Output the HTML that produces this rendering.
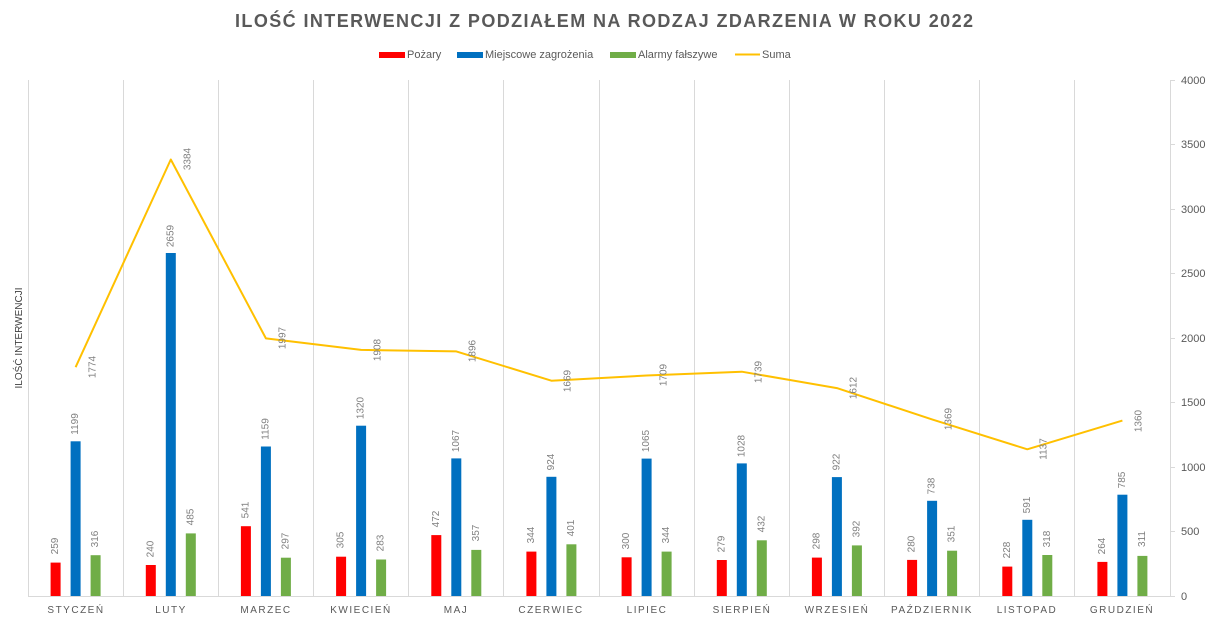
<!DOCTYPE html>
<html><head><meta charset="utf-8"><style>
html,body{margin:0;padding:0;background:#fff;}
svg{display:block;font-family:"Liberation Sans",sans-serif;}
.g{stroke:#d9d9d9;stroke-width:1;}
.r{fill:#FF0000}.b{fill:#0070C0}.n{fill:#70AD47}
.l{font-size:10px;fill:#7f7f7f;text-anchor:middle;dominant-baseline:central;}
.s{font-size:10px;fill:#7f7f7f;text-anchor:middle;dominant-baseline:central;}
.t{font-size:11px;fill:#595959;}
.c{font-size:10px;fill:#595959;text-anchor:middle;letter-spacing:1.5px;}
</style></head><body>
<svg width="1212" height="624" viewBox="0 0 1212 624">
<text x="604" y="27" text-anchor="middle" font-size="18" font-weight="bold" fill="#595959" textLength="738" lengthAdjust="spacing">ILOŚĆ INTERWENCJI Z PODZIAŁEM NA RODZAJ ZDARZENIA W ROKU 2022</text>
<rect x="379" y="52" width="26" height="6" fill="#FF0000"/><text x="407" y="58" font-size="11" fill="#595959">Pożary</text>
<rect x="457" y="52" width="26" height="6" fill="#0070C0"/><text x="485" y="58" font-size="11" fill="#595959">Miejscowe zagrożenia</text>
<rect x="610" y="52" width="26" height="6" fill="#70AD47"/><text x="638" y="58" font-size="11" fill="#595959">Alarmy fałszywe</text>
<line x1="735" y1="54.5" x2="760" y2="54.5" stroke="#FFC000" stroke-width="2"/><text x="762" y="58" font-size="11" fill="#595959">Suma</text>
<text transform="translate(22,338) rotate(-90)" text-anchor="middle" font-size="10" fill="#404040">ILOŚĆ INTERWENCJI</text>
<g class="g">
<line x1="28.5" y1="80" x2="28.5" y2="596"/><line x1="123.5" y1="80" x2="123.5" y2="596"/><line x1="218.5" y1="80" x2="218.5" y2="596"/><line x1="313.5" y1="80" x2="313.5" y2="596"/><line x1="408.5" y1="80" x2="408.5" y2="596"/><line x1="503.5" y1="80" x2="503.5" y2="596"/><line x1="599.5" y1="80" x2="599.5" y2="596"/><line x1="694.5" y1="80" x2="694.5" y2="596"/><line x1="789.5" y1="80" x2="789.5" y2="596"/><line x1="884.5" y1="80" x2="884.5" y2="596"/><line x1="979.5" y1="80" x2="979.5" y2="596"/><line x1="1074.5" y1="80" x2="1074.5" y2="596"/><line x1="1170.5" y1="80" x2="1170.5" y2="596"/>
<line x1="28" y1="596.5" x2="1170" y2="596.5"/>
<line x1="1170" y1="80.5" x2="1175" y2="80.5"/><line x1="1170" y1="144.5" x2="1175" y2="144.5"/><line x1="1170" y1="209.5" x2="1175" y2="209.5"/><line x1="1170" y1="273.5" x2="1175" y2="273.5"/><line x1="1170" y1="338.5" x2="1175" y2="338.5"/><line x1="1170" y1="402.5" x2="1175" y2="402.5"/><line x1="1170" y1="467.5" x2="1175" y2="467.5"/><line x1="1170" y1="531.5" x2="1175" y2="531.5"/><line x1="1170" y1="596.5" x2="1175" y2="596.5"/>
</g>
<g class="t">
<text x="1181" y="84">4000</text><text x="1181" y="148">3500</text><text x="1181" y="213">3000</text><text x="1181" y="277">2500</text><text x="1181" y="342">2000</text><text x="1181" y="406">1500</text><text x="1181" y="471">1000</text><text x="1181" y="535">500</text><text x="1181" y="600">0</text>
</g>
<g>
<rect class="r" x="50.6" y="562.6" width="10" height="33.4"/><rect class="b" x="70.6" y="441.3" width="10" height="154.7"/><rect class="n" x="90.6" y="555.2" width="10" height="40.8"/>
<rect class="r" x="145.8" y="565" width="10" height="31"/><rect class="b" x="165.8" y="253" width="10" height="343"/><rect class="n" x="185.8" y="533.4" width="10" height="62.6"/>
<rect class="r" x="240.9" y="526.2" width="10" height="69.8"/><rect class="b" x="260.9" y="446.5" width="10" height="149.5"/><rect class="n" x="280.9" y="557.7" width="10" height="38.3"/>
<rect class="r" x="336.1" y="556.7" width="10" height="39.3"/><rect class="b" x="356.1" y="425.7" width="10" height="170.3"/><rect class="n" x="376.1" y="559.5" width="10" height="36.5"/>
<rect class="r" x="431.3" y="535.1" width="10" height="60.9"/><rect class="b" x="451.3" y="458.4" width="10" height="137.6"/><rect class="n" x="471.3" y="549.9" width="10" height="46.1"/>
<rect class="r" x="526.4" y="551.6" width="10" height="44.4"/><rect class="b" x="546.4" y="476.8" width="10" height="119.2"/><rect class="n" x="566.4" y="544.3" width="10" height="51.7"/>
<rect class="r" x="621.6" y="557.3" width="10" height="38.7"/><rect class="b" x="641.6" y="458.6" width="10" height="137.4"/><rect class="n" x="661.6" y="551.6" width="10" height="44.4"/>
<rect class="r" x="716.8" y="560" width="10" height="36"/><rect class="b" x="736.8" y="463.4" width="10" height="132.6"/><rect class="n" x="756.8" y="540.3" width="10" height="55.7"/>
<rect class="r" x="811.9" y="557.6" width="10" height="38.4"/><rect class="b" x="831.9" y="477.1" width="10" height="118.9"/><rect class="n" x="851.9" y="545.4" width="10" height="50.6"/>
<rect class="r" x="907.1" y="559.9" width="10" height="36.1"/><rect class="b" x="927.1" y="500.8" width="10" height="95.2"/><rect class="n" x="947.1" y="550.7" width="10" height="45.3"/>
<rect class="r" x="1002.3" y="566.6" width="10" height="29.4"/><rect class="b" x="1022.3" y="519.8" width="10" height="76.2"/><rect class="n" x="1042.3" y="555" width="10" height="41"/>
<rect class="r" x="1097.4" y="561.9" width="10" height="34.1"/><rect class="b" x="1117.4" y="494.7" width="10" height="101.3"/><rect class="n" x="1137.4" y="555.9" width="10" height="40.1"/>
</g>
<polyline fill="none" stroke="#FFC000" stroke-width="2" stroke-linejoin="round" points="75.6,367.2 170.8,159.5 265.9,338.4 361.1,349.9 456.3,351.4 551.4,380.7 646.6,375.5 741.8,371.7 836.9,388.1 932.1,419.4 1027.3,449.3 1122.4,420.6"/>
<g class="l">
<text transform="translate(55.6,546) rotate(-90)">259</text><text transform="translate(75.6,424) rotate(-90)">1199</text><text transform="translate(95.6,539) rotate(-90)">316</text>
<text transform="translate(150.8,549) rotate(-90)">240</text><text transform="translate(170.8,236) rotate(-90)">2659</text><text transform="translate(190.8,517) rotate(-90)">485</text>
<text transform="translate(245.9,510) rotate(-90)">541</text><text transform="translate(265.9,429) rotate(-90)">1159</text><text transform="translate(285.9,541) rotate(-90)">297</text>
<text transform="translate(341.1,540) rotate(-90)">305</text><text transform="translate(361.1,408) rotate(-90)">1320</text><text transform="translate(381.1,543) rotate(-90)">283</text>
<text transform="translate(436.3,519) rotate(-90)">472</text><text transform="translate(456.3,441) rotate(-90)">1067</text><text transform="translate(476.3,533) rotate(-90)">357</text>
<text transform="translate(531.4,535) rotate(-90)">344</text><text transform="translate(551.4,462) rotate(-90)">924</text><text transform="translate(571.4,528) rotate(-90)">401</text>
<text transform="translate(626.6,541) rotate(-90)">300</text><text transform="translate(646.6,441) rotate(-90)">1065</text><text transform="translate(666.6,535) rotate(-90)">344</text>
<text transform="translate(721.8,544) rotate(-90)">279</text><text transform="translate(741.8,446) rotate(-90)">1028</text><text transform="translate(761.8,524) rotate(-90)">432</text>
<text transform="translate(816.9,541) rotate(-90)">298</text><text transform="translate(836.9,462) rotate(-90)">922</text><text transform="translate(856.9,529) rotate(-90)">392</text>
<text transform="translate(912.1,544) rotate(-90)">280</text><text transform="translate(932.1,486) rotate(-90)">738</text><text transform="translate(952.1,534) rotate(-90)">351</text>
<text transform="translate(1007.3,550) rotate(-90)">228</text><text transform="translate(1027.3,505) rotate(-90)">591</text><text transform="translate(1047.3,539) rotate(-90)">318</text>
<text transform="translate(1102.4,546) rotate(-90)">264</text><text transform="translate(1122.4,480) rotate(-90)">785</text><text transform="translate(1142.4,539) rotate(-90)">311</text>
</g>
<g class="s">
<text transform="translate(93,367) rotate(-90)">1774</text><text transform="translate(188,159) rotate(-90)">3384</text><text transform="translate(283,338) rotate(-90)">1997</text><text transform="translate(378,350) rotate(-90)">1908</text><text transform="translate(473,351) rotate(-90)">1896</text><text transform="translate(568,381) rotate(-90)">1669</text><text transform="translate(664,375) rotate(-90)">1709</text><text transform="translate(759,372) rotate(-90)">1739</text><text transform="translate(854,388) rotate(-90)">1612</text><text transform="translate(949,419) rotate(-90)">1369</text><text transform="translate(1044,449) rotate(-90)">1137</text><text transform="translate(1139,421) rotate(-90)">1360</text>
</g>
<g class="c">
<text x="76" y="613">STYCZEŃ</text><text x="171" y="613">LUTY</text><text x="266" y="613">MARZEC</text><text x="361" y="613">KWIECIEŃ</text><text x="456" y="613">MAJ</text><text x="551" y="613">CZERWIEC</text><text x="647" y="613">LIPIEC</text><text x="742" y="613">SIERPIEŃ</text><text x="837" y="613">WRZESIEŃ</text><text x="932" y="613">PAŹDZIERNIK</text><text x="1027" y="613">LISTOPAD</text><text x="1122" y="613">GRUDZIEŃ</text>
</g>
</svg>
</body></html>
